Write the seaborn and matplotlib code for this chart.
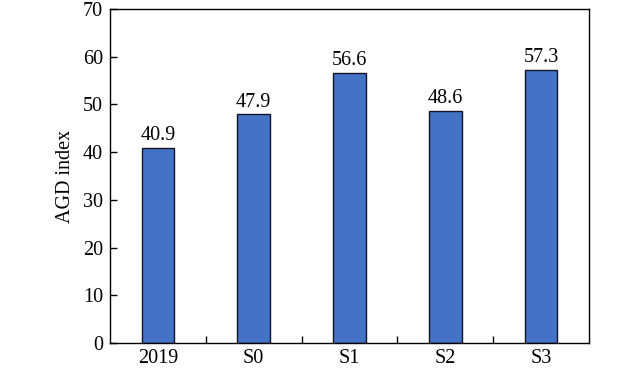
import matplotlib
matplotlib.use("Agg")
import matplotlib.pyplot as plt
import seaborn as sns
import pandas as pd
from matplotlib.ticker import FixedLocator

categories = ["2019", "S0", "S1", "S2", "S3"]
values = [40.9, 47.9, 56.6, 48.6, 57.3]
yticks = [0, 10, 20, 30, 40, 50, 60, 70]

sns.set_theme(style="ticks")
plt.rcParams['font.family'] = ['Liberation Serif', 'DejaVu Serif']
plt.rcParams['text.color'] = 'black'
plt.rcParams['axes.labelcolor'] = 'black'
plt.rcParams['xtick.color'] = 'black'
plt.rcParams['ytick.color'] = 'black'

df = pd.DataFrame({"cat": categories, "val": values})

FS = 14.5
fig = plt.figure(figsize=(6.39, 3.69), dpi=100)
ax = fig.add_axes([110/639, 1-343/369, (589-110)/639, (343-9)/369])
sns.barplot(data=df, x="cat", y="val", color="#4472C4", saturation=1,
            width=0.34, edgecolor="#141428", linewidth=1.0, ax=ax)

for i, v in enumerate(values):
    ax.text(i, v + 0.6, f"{v:.1f}", ha="center", va="bottom", fontsize=FS, color="black")

ax.set_xlim(-0.5, 4.5)
ax.set_ylim(0, 70)
ax.set_yticks(yticks)
ax.set_xlabel("")
ax.set_ylabel("AGD index", fontsize=FS, labelpad=6)
ax.tick_params(axis="y", direction="in", length=5, labelsize=FS, width=1, pad=5)
ax.tick_params(axis="x", which="major", length=0, labelsize=FS, pad=4)
ax.xaxis.set_minor_locator(FixedLocator([0.5, 1.5, 2.5, 3.5]))
ax.tick_params(axis="x", which="minor", direction="in", length=5, width=1)
for s in ax.spines.values():
    s.set_linewidth(1.0)
    s.set_color("black")
    s.set_visible(True)

fig.savefig("out.png", dpi=100)
